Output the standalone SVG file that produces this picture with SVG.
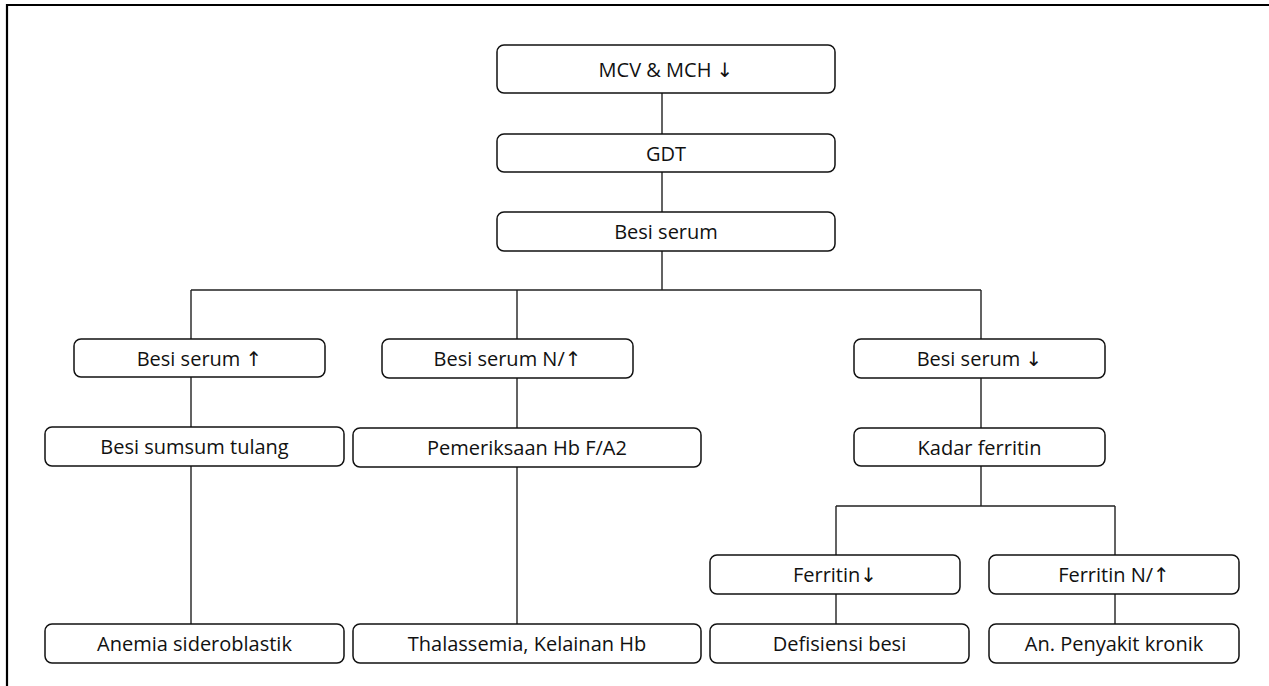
<svg xmlns="http://www.w3.org/2000/svg" width="1269" height="686" viewBox="0 0 1269 686">
<style>
.box{fill:#fff;stroke:#111;stroke-width:1.5}
.t{font-family:"Open Sans","Liberation Sans",sans-serif;font-size:20px;fill:#111;text-anchor:middle}
.a{font-family:"DejaVu Sans",sans-serif;font-size:20px}
.c{fill:none;stroke:#222;stroke-width:1.4}
</style>
<rect width="1269" height="686" fill="#fff"/>
<path d="M7,686 V5 H1269" fill="none" stroke="#000" stroke-width="2.2"/>
<g id="connectors">
<path class="c" d="M662,93 V134 M662,172 V212 M662,251 V290 M191,290 H981 M191,290 V339 M517,290 V339 M981,290 V339 M191,377 V427 M517,378 V428 M981,378 V428 M191,466 V624 M517,467 V624 M981,466 V506 M836,506 H1115 M836,506 V555 M1115,506 V555 M836,594 V624 M1115,594 V624"/>
</g>
<g id="n1"><rect class="box" x="497" y="45" width="338" height="48" rx="7"/><text class="t" x="666" y="77">MCV &amp; MCH <tspan class="a">↓</tspan></text></g>
<g id="n2"><rect class="box" x="497" y="134" width="338" height="38" rx="7"/><text class="t" x="666" y="161">GDT</text></g>
<g id="n3"><rect class="box" x="497" y="212" width="338" height="39" rx="7"/><text class="t" x="666" y="239">Besi serum</text></g>
<g id="n4"><rect class="box" x="74" y="339" width="251" height="38" rx="7"/><text class="t" x="199.5" y="366">Besi serum <tspan class="a">↑</tspan></text></g>
<g id="n5"><rect class="box" x="382" y="339" width="251" height="39" rx="7"/><text class="t" x="507.5" y="366">Besi serum N/<tspan class="a">↑</tspan></text></g>
<g id="n6"><rect class="box" x="854" y="339" width="251" height="39" rx="7"/><text class="t" x="979.5" y="366">Besi serum <tspan class="a">↓</tspan></text></g>
<g id="n7"><rect class="box" x="45" y="427" width="299" height="39" rx="7"/><text class="t" x="194.5" y="454">Besi sumsum tulang</text></g>
<g id="n8"><rect class="box" x="353" y="428" width="348" height="39" rx="7"/><text class="t" x="527" y="455">Pemeriksaan Hb F/A2</text></g>
<g id="n9"><rect class="box" x="854" y="428" width="251" height="38" rx="7"/><text class="t" x="979.5" y="455">Kadar ferritin</text></g>
<g id="n10"><rect class="box" x="710" y="555" width="250" height="39" rx="7"/><text class="t" x="835" y="582">Ferritin<tspan class="a">↓</tspan></text></g>
<g id="n11"><rect class="box" x="989" y="555" width="250" height="39" rx="7"/><text class="t" x="1114" y="582">Ferritin N/<tspan class="a">↑</tspan></text></g>
<g id="n12"><rect class="box" x="45" y="624" width="299" height="39" rx="7"/><text class="t" x="194.5" y="651">Anemia sideroblastik</text></g>
<g id="n13"><rect class="box" x="353" y="624" width="348" height="39" rx="7"/><text class="t" x="527" y="651">Thalassemia, Kelainan Hb</text></g>
<g id="n14"><rect class="box" x="710" y="624" width="259" height="39" rx="7"/><text class="t" x="839.5" y="651">Defisiensi besi</text></g>
<g id="n15"><rect class="box" x="989" y="624" width="250" height="39" rx="7"/><text class="t" x="1114" y="651">An. Penyakit kronik</text></g>
</svg>
